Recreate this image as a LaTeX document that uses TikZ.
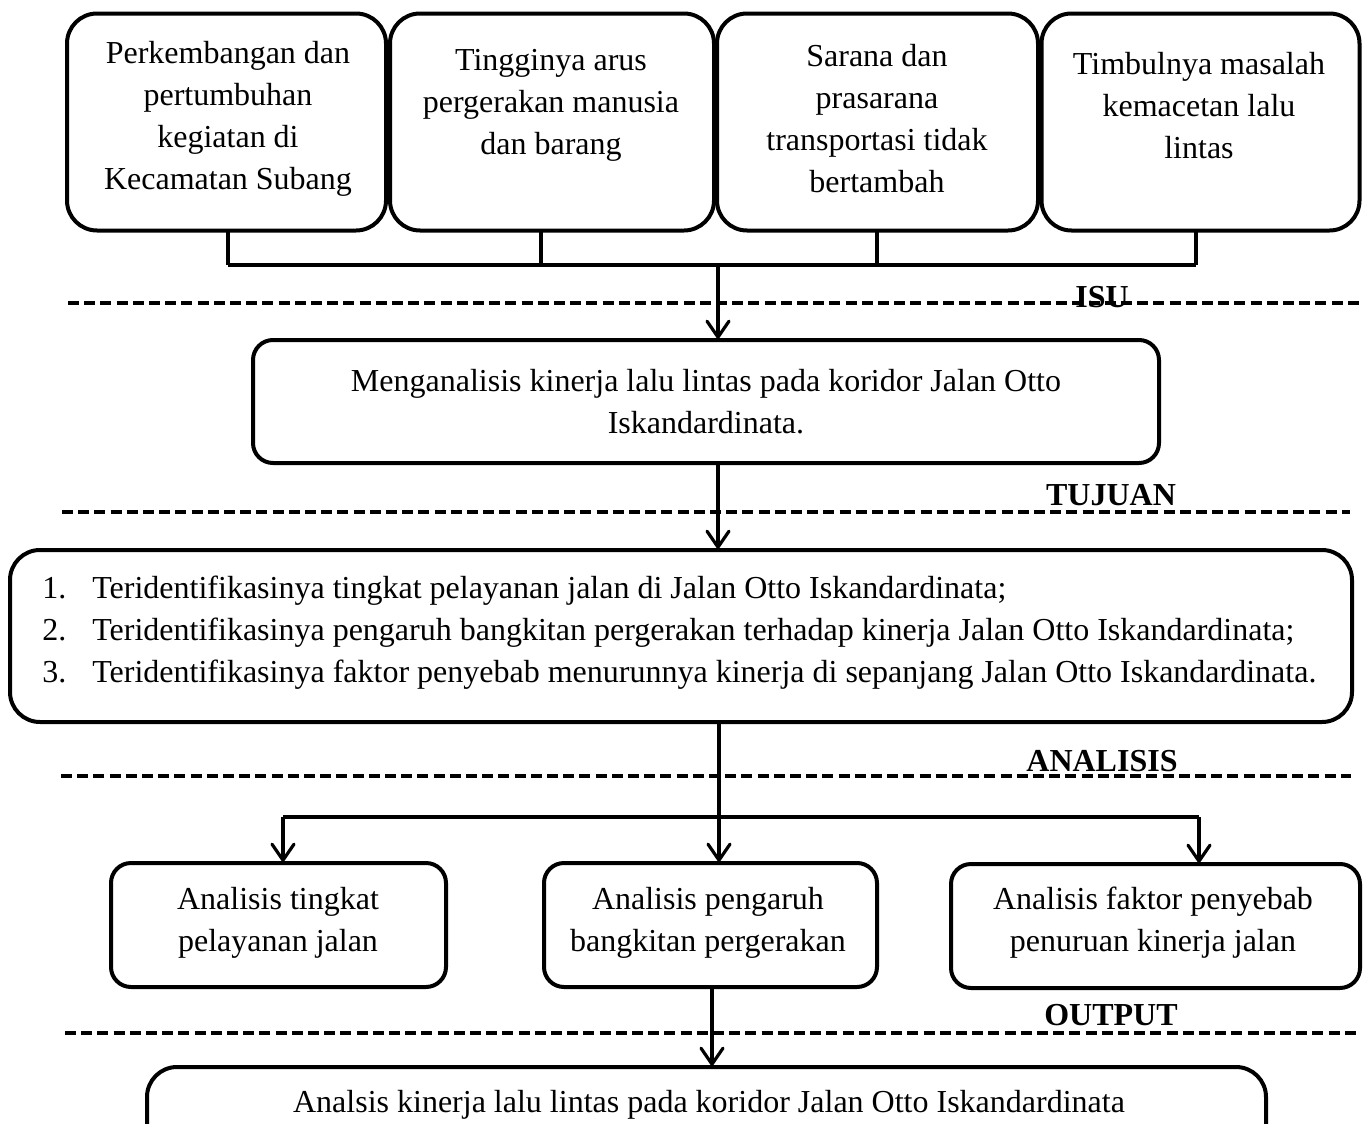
\documentclass[tikz,border=0pt]{standalone}
\usepackage{fontspec}
\setmainfont{Liberation Serif}
\usetikzlibrary{arrows.meta}
\tikzset{
  x=0.5pt, y=-0.5pt,
  box/.style={draw, line width=2pt, rounded corners=15pt, outer sep=0pt, inner sep=0pt},
  sbox/.style={draw, line width=2pt, rounded corners=10pt, outer sep=0pt, inner sep=0pt},
  txt/.style={font=\fontsize{16pt}{21pt}\selectfont, align=center, inner sep=0pt},
  lbl/.style={font=\fontsize{16pt}{21pt}\selectfont\bfseries, inner sep=0pt},
  conn/.style={line width=1.6pt},
  arr/.style={line width=1.6pt, -{Straight Barb[length=8pt,width=11pt,line cap=round]}},
  sep/.style={line width=2pt, dash pattern=on 5.5pt off 2.6pt}
}
\begin{document}
\begin{tikzpicture}
\clip (0,0) rectangle (1366,1124);

% top boxes
\node[box, minimum width=159.5pt, minimum height=108.5pt] (b1) at (226.5,122) {};
\node[box, minimum width=162pt, minimum height=108.5pt] (b2) at (552,122) {};
\node[box, minimum width=160.5pt, minimum height=108.5pt] (b3) at (877.5,122) {};
\node[box, minimum width=159pt, minimum height=108.5pt] (b4) at (1200.5,122) {};
\node[txt] (t1) at (228,119) {Perkembangan dan\\pertumbuhan\\kegiatan di\\Kecamatan Subang};
\node[txt] (t2) at (551,105.5) {Tingginya arus\\pergerakan manusia\\dan barang};
\node[txt] (t3) at (877,119) {Sarana dan\\prasarana\\transportasi tidak\\bertambah};
\node[txt] (t4) at (1199,105.5) {Timbulnya masalah\\kemacetan lalu\\lintas};

\coordinate (j1) at (228,265);
\coordinate (j2) at (541,265);
\coordinate (j3) at (877,265);
\coordinate (j4) at (1196,265);
\coordinate (jm) at (718,265);
\draw[conn] (b1.south -| j1) -- (j1);
\draw[conn] (b2.south -| j2) -- (j2);
\draw[conn] (b3.south -| j3) -- (j3);
\draw[conn] (b4.south -| j4) -- (j4);
\draw[conn, line width=1.8pt] (j1) -- (j4);

% ISU
\draw[sep] (68,303) -- (1359,303);
\node[lbl] (isu) at (1102,297) {ISU};

% tujuan box
\node[sbox, minimum width=453pt, minimum height=61.5pt] (tuj) at (706,401.5) {};
\node[txt] (tt) at (706,401.5) {Menganalisis kinerja lalu lintas pada koridor Jalan Otto\\Iskandardinata.};
\draw[arr] (jm) -- (jm |- tuj.north);

% TUJUAN
\draw[sep] (62,512) -- (1350,512);
\node[lbl] (ltuj) at (1111,495) {TUJUAN};

% goals box
\node[box, minimum width=671pt, minimum height=86pt] (goal) at (681,636) {};
\node[txt, align=left, anchor=west] (gt) at (42,633) {\makebox[25pt][l]{1.}Teridentifikasinya tingkat pelayanan jalan di Jalan Otto Iskandardinata;\\
\makebox[25pt][l]{2.}Teridentifikasinya pengaruh bangkitan pergerakan terhadap kinerja Jalan Otto Iskandardinata;\\
\makebox[25pt][l]{3.}Teridentifikasinya faktor penyebab menurunnya kinerja di sepanjang Jalan Otto Iskandardinata.};
\coordinate (ka) at (718,463);
\draw[arr] (tuj.south -| ka) -- (ka |- goal.north);

% ANALISIS
\draw[sep] (61,776) -- (1351,776);
\node[lbl] (lana) at (1102,761) {ANALISIS};

% analysis boxes
\node[sbox, minimum width=167.5pt, minimum height=62pt] (ba) at (278.5,925) {};
\node[sbox, minimum width=166.5pt, minimum height=62pt] (bb) at (710.5,925) {};
\node[sbox, minimum width=204.5pt, minimum height=62pt] (bc) at (1155.5,926) {};
\node[txt] (ta) at (278,922.5) {Analisis tingkat\\pelayanan jalan};
\node[txt] (tb) at (708,922.5) {Analisis pengaruh\\bangkitan pergerakan};
\node[txt] (tc) at (1153,922.5) {Analisis faktor penyebab\\penuruan kinerja jalan};

\coordinate (ca) at (283,817);
\coordinate (cm) at (719,817);
\coordinate (cc) at (1199,817);
\draw[conn, line width=2pt] (ca) -- (cc);
\draw[arr] (goal.south -| cm) -- (cm |- bb.north);
\draw[arr] (ca) -- (ca |- ba.north);
\draw[arr] (cc) -- (cc |- bc.north);

% OUTPUT
\draw[sep] (65,1033) -- (1356,1033);
\node[lbl] (lout) at (1111,1015) {OUTPUT};

% output box
\node[box, minimum width=559.5pt, minimum height=50pt] (out) at (706.5,1117) {};
\node[txt] (to) at (709,1105) {Analsis kinerja lalu lintas pada koridor Jalan Otto Iskandardinata};
\coordinate (co) at (712,990);
\draw[arr] (bb.south -| co) -- (co |- out.north);
\end{tikzpicture}
\end{document}
